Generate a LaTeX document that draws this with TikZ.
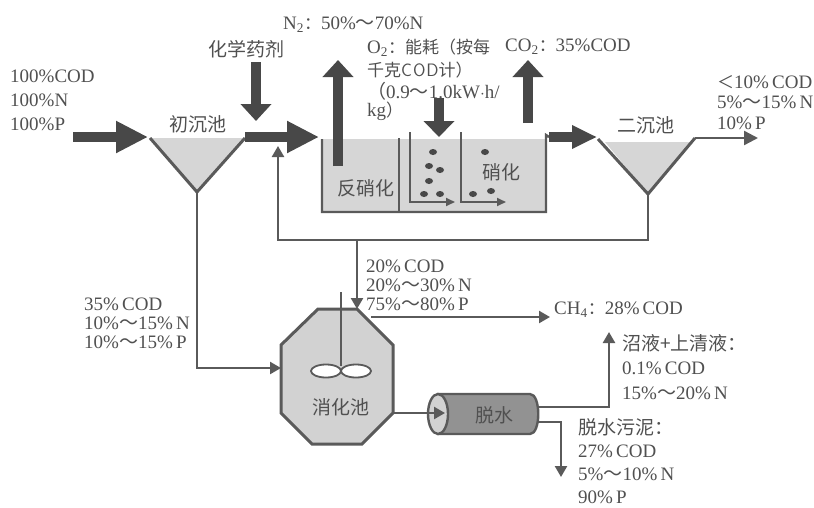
\documentclass[tikz,border=0pt]{standalone}
\usepackage{fontspec}
\setmainfont{Liberation Serif}
\newfontfamily\cjk{Noto Sans CJK SC}[Scale=1]
\newcommand{\smallzh}{\cjk\fontsize{17}{20}\selectfont}
\usetikzlibrary{arrows.meta,shapes.geometric}
\definecolor{txt}{HTML}{505050}
\definecolor{ln}{HTML}{5A5A5A}
\definecolor{dk}{HTML}{484848}
\definecolor{wat}{HTML}{D6D6D6}
\definecolor{dig}{HTML}{D2D2D2}
\definecolor{cyl}{HTML}{929292}
\tikzset{
  x=1pt,y=-1pt,
  lbl/.style={font=\fontsize{19}{#1}\selectfont,align=left,inner sep=0pt,anchor=north west,text=txt},
  zh/.style={font=\cjk\fontsize{19}{20}\selectfont,inner sep=0pt,text=txt},
  thin line/.style={draw=ln,line width=2.4pt,line join=miter},
  thin arrow/.style={thin line,-{Triangle[length=11pt,width=12pt]}},
  fat arrow/.style={draw=dk,line width=10pt,-{Triangle[length=#1,width=30pt]}},
  fat arrow/.default=32pt,
  dot/.style={ellipse,fill=dk,inner sep=0pt,minimum width=8pt,minimum height=6pt},
  imp/.style={draw=ln,line width=1.8pt,fill=white,ellipse,minimum width=30pt,minimum height=13pt,inner sep=0pt},
}
\begin{document}
\begin{tikzpicture}
\useasboundingbox (0,0) rectangle (814,507);
% named coordinates
\coordinate (inS) at (73,137);
\coordinate (inE) at (148,137);
\coordinate (c1L) at (150,138);
\coordinate (c1B) at (197,192);
\coordinate (c1R) at (245,138);
\coordinate (c1O) at (245,137);
\coordinate (tankIn) at (319,137);
\coordinate (chemS) at (256,62);
\coordinate (chemE) at (256,121);
\coordinate (n2S) at (338,166);
\coordinate (n2E) at (338,60);
\coordinate (tTL) at (322,139);
\coordinate (tBL) at (322,212);
\coordinate (tBR) at (546,212);
\coordinate (tTR) at (546,139);
\coordinate (pT) at (399,138);
\coordinate (pB) at (399,212);
\coordinate (b1T) at (410,132);
\coordinate (b1B) at (410,202);
\coordinate (b1E) at (455,202);
\coordinate (b2T) at (461,132);
\coordinate (b2B) at (461,202);
\coordinate (b2E) at (506,202);
\coordinate (o2S) at (439,98);
\coordinate (o2E) at (439,137);
\coordinate (co2S) at (528,123);
\coordinate (co2E) at (528,60);
\coordinate (outS) at (549,137);
\coordinate (outE) at (597,137);
\coordinate (c2L) at (598,139);
\coordinate (c2B) at (648,194);
\coordinate (c2R) at (695,138);
\coordinate (effE) at (758,138);
\coordinate (retC) at (648,240);
\coordinate (retL) at (278,240);
\coordinate (retE) at (278,146);
\coordinate (brT) at (357,240);
\coordinate (o1) at (318,309);
\coordinate (o2) at (357,309);
\coordinate (o3) at (393,345);
\coordinate (o4) at (393,413);
\coordinate (o5) at (362,444);
\coordinate (o6) at (312,444);
\coordinate (o7) at (281,413);
\coordinate (o8) at (281,345);
\coordinate (c1C) at (197,368);
\coordinate (ch4S) at (371,317);
\coordinate (ch4E) at (550,317);
\coordinate (stT) at (341,292);
\coordinate (stB) at (341,366);
\coordinate (cylIn) at (445,413);
\coordinate (upS) at (538,407);
\coordinate (upC) at (609,407);
\coordinate (upE) at (609,332);
\coordinate (dnS) at (538,422);
\coordinate (dnC) at (561,422);
\coordinate (dnE) at (561,477);
% water
\fill[wat] (tTL) -- (tBL) -- (tBR) -- (tTR) -- cycle;
\fill[wat] (c1L) -- (c1B) -- (c1R) -- cycle;
\fill[wat] (605,142) -- (c2B) -- (691,142) -- cycle;
% tank
\draw[thin line] (tTL) -- (tBL) -- (tBR) -- (tTR) -- ++(0,-4) -- (outS);
\draw[thin line] (pT) -- (pB);
\draw[thin line,line width=1.8pt,-{Triangle[length=9pt,width=8pt]}] (b1T) -- (b1B) -- (b1E);
\draw[thin line,line width=1.8pt,-{Triangle[length=9pt,width=8pt]}] (b2T) -- (b2B) -- (b2E);
\foreach \n/\px/\py in {a/433/152,b/429/166,c/440/170,d/429/181,e/424/194,f/440/194,g/485/152,h/473/194,i/491/191}
  \node[dot] (\n) at (\px,\py) {};
% clarifiers
\draw[thin line,line width=3pt] (c1L) -- (c1B) -- (c1R);
\draw[thin line,line width=3pt] (c2L) -- (c2B) -- (c2R);
% piping
\draw[thin arrow] (c1B) -- (c1C) -- (o7 |- c1C);
\draw[thin arrow] (c2B) -- (retC) -- (retL) -- (retE);
\draw[thin arrow] (brT) -- (o2);
\draw[thin line,-{Triangle[length=14pt,width=14pt]}] (c2R) -- (effE);
% fat arrows
\draw[fat arrow] (inS) -- (inE);
\draw[fat arrow] (c1O) -- (tankIn);
\draw[fat arrow=17pt] (chemS) -- (chemE);
\draw[fat arrow=17pt] (n2S) -- (n2E);
\draw[fat arrow=16pt] (o2S) -- (o2E);
\draw[fat arrow=17pt] (co2S) -- (co2E);
\draw[draw=dk,line width=10pt,-{Triangle[length=25pt,width=22pt]}] (outS) -- (outE);
% digester
\draw[draw=ln,line width=3pt,fill=dig] (o1) -- (o2) -- (o3) -- (o4) -- (o5) -- (o6) -- (o7) -- (o8) -- cycle;
\draw[thin line,line width=1.4pt] (stT) -- (stB);
\node[imp] (impL) at (326,371) {};
\node[imp] (impR) at (356,371) {};
\draw[thin arrow] (ch4S) -- (ch4E);
% dewatering cylinder
\draw[draw=ln,line width=2.4pt,fill=cyl] (438,394) -- (530,394) .. controls (541,394) and (541,434) .. (530,434) -- (438,434) -- cycle;
\draw[draw=ln,line width=2.4pt,fill=dig] (438,414) ellipse [x radius=10,y radius=20];
\draw[thin arrow] (o4) -- (cylIn);
\draw[thin arrow] (upS) -- (upC) -- (upE);
\draw[thin arrow] (dnS) -- (dnC) -- (dnE);
% texts
\node[zh] (t1) at (198,124) {初沉池};
\node[zh] (t2) at (246,49) {化学药剂};
\node[zh] (t3) at (366,188) {反硝化};
\node[zh] (t4) at (501,172) {硝化};
\node[zh] (t5) at (646,125) {二沉池};
\node[zh] (t6) at (341,407) {消化池};
\node[zh] (t7) at (494,415) {脱水};
\node[lbl=24] (l1) at (10,70) {100\%COD\\100\%N\\100\%P};
\node[lbl=20] (l2) at (283,17) {N\textsubscript{2}{\smallzh ：}50\%{\cjk～}70\%N};
\node[lbl=20] (l3) at (367,39) {O\textsubscript{2}{\smallzh ：能耗（按每}};
\node[lbl=20] (l4) at (367,62) {{\smallzh 千克}{\sffamily\fontsize{18}{18}\selectfont C\kern1pt O\kern1pt D}{\smallzh 计）}};
\node[lbl=18.5] (l5) at (367,82) {{\cjk （}0.9{\cjk～}1.0kW$\cdot$h/\\kg{\smallzh ）}};
\node[lbl=20] (l7) at (505,39) {CO\textsubscript{2}{\smallzh ：}35\%COD};
\node[lbl=20.5] (l8) at (717,75) {{\smallzh ＜}10\%\,COD\\5\%{\cjk～}15\%\,N\\10\%\,P};
\node[lbl=19] (l9) at (366,260) {20\%\,COD\\20\%{\cjk～}30\%\,N\\75\%{\cjk～}80\%\,P};
\node[lbl=19] (l10) at (84,298) {35\%\,COD\\10\%{\cjk～}15\%\,N\\10\%{\cjk～}15\%\,P};
\node[lbl=20] (l11) at (554,302) {CH\textsubscript{4}{\smallzh ：}28\%\,COD};
\node[lbl=24.5] (l12) at (622,334) {{\cjk 沼液+上清液：}\\0.1\%\,COD\\15\%{\cjk～}20\%\,N};
\node[lbl=23] (l13) at (578,418) {{\cjk 脱水污泥：}\\27\%\,COD\\5\%{\cjk～}10\%\,N\\90\%\,P};
\end{tikzpicture}
\end{document}
